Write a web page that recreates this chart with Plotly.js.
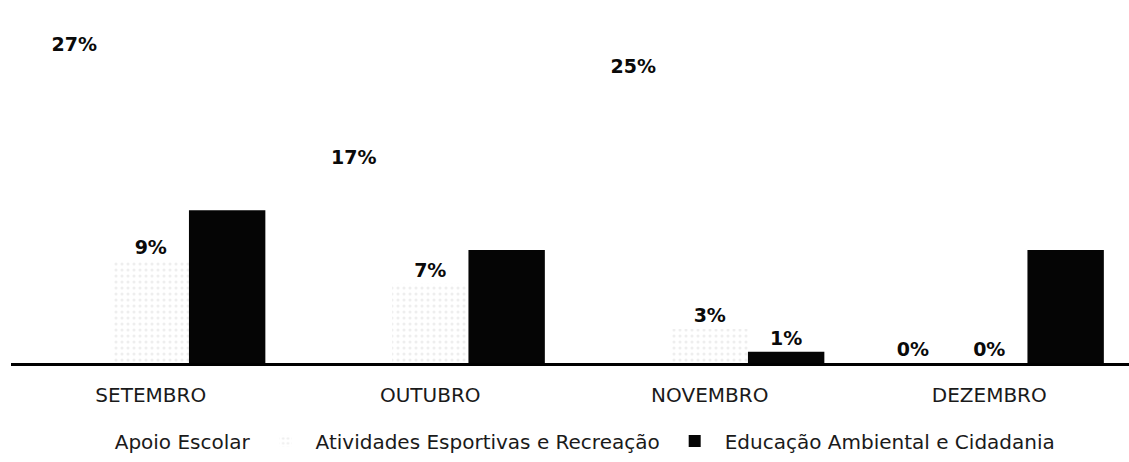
<!DOCTYPE html>
<html>
<head>
<meta charset="utf-8">
<script src="https://cdn.plot.ly/plotly-3.0.1.min.js"></script>
<style>html,body{margin:0;padding:0;background:#fff;}#chart{width:1129px;height:462px;}</style>
</head>
<body>
<div id="chart"></div>
<script>
const months = ['SETEMBRO', 'OUTUBRO', 'NOVEMBRO', 'DEZEMBRO'];
const apoioEscolar = [27, 17, 25, 0];
const atividadesEsportivas = [9, 7, 3, 0];
const educacaoAmbiental = [13.5, 10, 1, 10];
const seriesNames = ['Apoio Escolar', 'Atividades Esportivas e Recreação', 'Educação Ambiental e Cidadania'];

const labelFont = {family: 'DejaVu Sans', size: 19, color: '#0a0a0a'};

const traces = [
  {
    type: 'bar', name: seriesNames[0], x: months, y: apoioEscolar,
    marker: {color: '#ffffff', line: {width: 0}},
    texttemplate: '<b>%{y:.0f}%</b>', textposition: 'outside', textfont: labelFont,
    cliponaxis: false, hoverinfo: 'skip'
  },
  {
    type: 'bar', name: seriesNames[1], x: months, y: atividadesEsportivas,
    marker: {color: '#ffffff', line: {width: 0}, pattern: {shape: '.', fgcolor: '#eeeeee', bgcolor: '#ffffff', size: 6, solidity: 0.2}},
    texttemplate: '<b>%{y:.0f}%</b>', textposition: 'outside', textfont: labelFont,
    cliponaxis: false, hoverinfo: 'skip'
  },
  {
    type: 'bar', name: seriesNames[2], x: months, y: educacaoAmbiental,
    marker: {color: '#050505', line: {width: 0}},
    texttemplate: '<b>%{y:.0f}%</b>', textposition: ['none', 'none', 'outside', 'none'], textfont: labelFont,
    cliponaxis: false, hoverinfo: 'skip'
  }
];

const layout = {
  width: 1129, height: 462,
  margin: {l: 11, r: 0, t: 9, b: 99},
  paper_bgcolor: '#ffffff', plot_bgcolor: '#ffffff',
  barmode: 'group', bargap: 0.18, bargroupgap: 0,
  showlegend: true,
  legend: {
    orientation: 'h', x: 0.489, xanchor: 'center', y: -0.22, yanchor: 'middle',
    font: {family: 'DejaVu Sans', size: 20, color: '#1a1a1a'},
    itemwidth: 50, traceorder: 'normal'
  },
  xaxis: {
    type: 'category', showline: true, linecolor: '#000', linewidth: 3,
    ticks: '', showgrid: false, zeroline: false,
    tickfont: {family: 'DejaVu Sans', size: 20, color: '#1a1a1a'},
    ticklabelstandoff: 12
  },
  yaxis: {
    range: [0, 31.3], showgrid: false, zeroline: false, showline: false,
    showticklabels: false, ticks: ''
  }
};

Plotly.newPlot('chart', traces, layout, {displayModeBar: false, staticPlot: true});
</script>
</body>
</html>
